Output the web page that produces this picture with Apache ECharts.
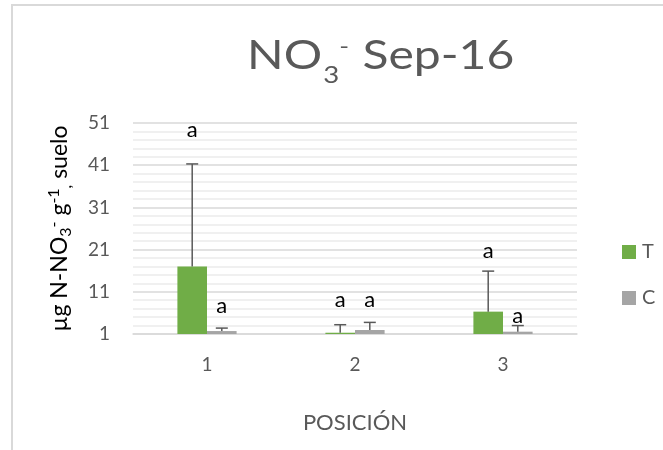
<!DOCTYPE html>
<html><head><meta charset="utf-8">
<script src="https://cdn.jsdelivr.net/npm/echarts@6/dist/echarts.min.js"></script>
<style>html,body{margin:0;padding:0;background:#fff}#c{width:663px;height:450px}</style>
</head><body><div id="c"></div>
<script>
const categories = ['1', '2', '3'];
const seriesNames = ['T', 'C'];
const tValues = [17.0, 1.3, 6.3];
const cValues = [1.7, 1.95, 1.55];
const tErrors = [24.3, 1.9, 9.6];
const cErrors = [0.7, 1.8, 1.45];
const tLetters = ['a', 'a', 'a'];
const cLetters = ['a', 'a', 'a'];
const tLetterAt = [49.4, 9.1, 20.8];
const cLetterAt = [7.7, 9.1, 5.3];
const yTicks = [1, 11, 21, 31, 41, 51];

const FONT = 'Lato, "Open Sans", sans-serif';
const chart = echarts.init(document.getElementById('c'), null, {renderer: 'canvas'});

function errorSeries(name, values, errs, letters, letterAt, side) {
  return {
    type: 'custom', name: name + ' err', z: 5, silent: true,
    data: values.map((v, i) => [i, v, v + errs[i], letterAt[i]]),
    encode: {x: 0, y: [1, 2, 3]},
    renderItem(params, api) {
      const i = api.value(0);
      const bandW = api.size([1, 0])[0];
      const base = api.coord([i, api.value(1)]);
      const top = api.coord([i, api.value(2)]);
      const lab = api.coord([i, api.value(3)]);
      const x = base[0] + side * 0.1 * bandW;
      const cap = 6;
      return {type: 'group', children: [
        {type: 'line', shape: {x1: x, y1: base[1], x2: x, y2: top[1]}, style: {stroke: '#595959', lineWidth: 1.5}},
        {type: 'line', shape: {x1: x - cap, y1: top[1], x2: x + cap, y2: top[1]}, style: {stroke: '#595959', lineWidth: 1.5}},
        {type: 'text', x: x, y: lab[1], style: {text: letters[params.dataIndex], fontSize: 22, fill: '#000',
          align: 'center', verticalAlign: 'middle', fontFamily: FONT}}
      ]};
    }
  };
}

const option = {
  backgroundColor: '#fff',
  animation: false,
  textStyle: {fontFamily: FONT},
  graphic: [{
    type: 'rect', shape: {x: 12, y: 5, width: 800, height: 600},
    style: {fill: 'none', stroke: '#d9d9d9', lineWidth: 2}, silent: true
  }, {
    type: 'text', x: 247, y: 56, scaleX: 1.2, silent: true,
    style: {
      text: '{m|NO}{sub|3}{sup|-}{m| Sep-16}',
      align: 'left', verticalAlign: 'middle',
      rich: {
        m: {fontSize: 40, fill: '#595959', fontFamily: FONT, fontWeight: 'normal', lineHeight: 48},
        sub: {fontSize: 23, fill: '#595959', fontFamily: FONT, lineHeight: 23, padding: [40, 0, 0, 1]},
        sup: {fontSize: 22, fill: '#595959', fontFamily: FONT, lineHeight: 22, padding: [0, 1, 18, 0]}
      }
    }
  }],
  legend: {
    data: seriesNames,
    orient: 'vertical', left: 617, top: 237,
    itemWidth: 14, itemHeight: 14, itemGap: 26, icon: 'rect',
    textStyle: {fontSize: 20, color: '#595959', fontFamily: FONT, padding: [0, 0, 0, 1]}
  },
  grid: {left: 133, right: 86, top: 123, bottom: 116},
  xAxis: {
    type: 'category', data: categories,
    axisLine: {lineStyle: {color: '#d9d9d9', width: 1.5}},
    axisTick: {show: false},
    axisLabel: {fontSize: 19, color: '#595959', margin: 21, fontFamily: FONT},
    name: 'POSICIÓN', nameLocation: 'middle', nameGap: 78,
    nameTextStyle: {fontSize: 22, color: '#595959', fontFamily: FONT}
  },
  yAxis: {
    type: 'value',
    min: yTicks[0], max: yTicks[yTicks.length - 1], interval: yTicks[1] - yTicks[0],
    axisLine: {show: false}, axisTick: {show: false},
    axisLabel: {fontSize: 19, color: '#595959', margin: 23, fontFamily: FONT},
    splitLine: {lineStyle: {color: '#d9d9d9', width: 1.5}},
    minorTick: {show: false, splitNumber: 5},
    minorSplitLine: {show: true, lineStyle: {color: '#ececec', width: 1.5}},
    name: '{m|µg N-NO}{sub|3}{sup|-}{m| g}{sup|-1}{sub|,}{m| suelo}',
    nameLocation: 'middle', nameRotate: 90, nameGap: 59,
    nameTextStyle: {
      rich: {
        m: {fontSize: 23, color: '#000', fontFamily: FONT, lineHeight: 28},
        sub: {fontSize: 16, color: '#000', fontFamily: FONT, lineHeight: 16, padding: [12, 0, 0, 0]},
        sup: {fontSize: 16, color: '#000', fontFamily: FONT, lineHeight: 16, padding: [0, 0, 12, 0]}
      }
    }
  },
  series: [
    {name: 'T', type: 'bar', data: tValues, barWidth: '20%', barGap: '0%', itemStyle: {color: '#70ad47'}, clip: true},
    {name: 'C', type: 'bar', data: cValues, barWidth: '20%', barGap: '0%', itemStyle: {color: '#a5a5a5'}, clip: true},
    errorSeries('T', tValues, tErrors, tLetters, tLetterAt, -1),
    errorSeries('C', cValues, cErrors, cLetters, cLetterAt, 1)
  ]
};
chart.setOption(option);
</script>
</body></html>
